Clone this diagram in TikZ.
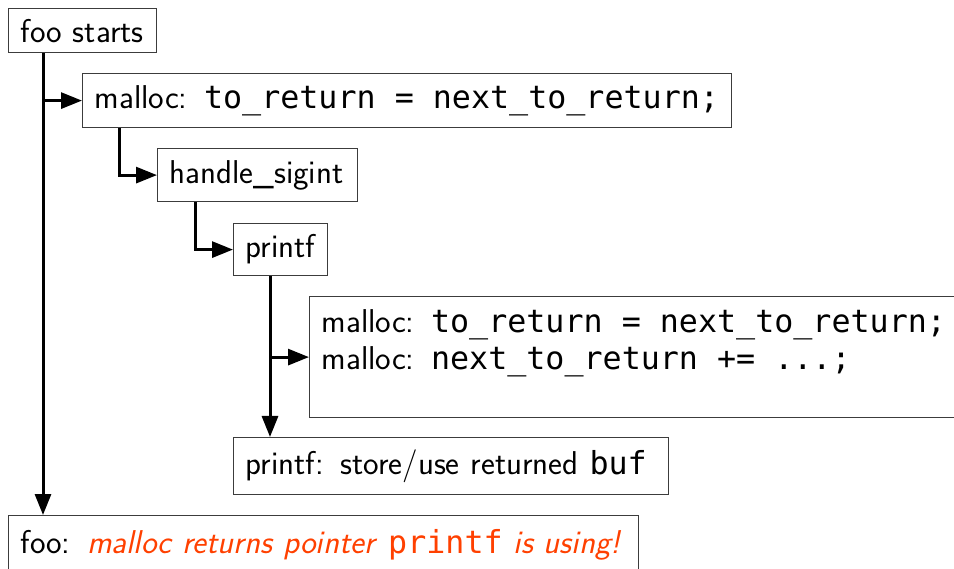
\documentclass[tikz,border=0pt]{standalone}
\usepackage{fontspec}
\setmonofont[Scale=0.96]{DejaVu Sans Mono}
\usetikzlibrary{arrows.meta,calc}
\definecolor{alert}{RGB}{255,64,0}
\definecolor{boxline}{RGB}{60,60,60}
\newcommand\tsp{\phantom{x}}
\tikzset{
  box/.style={draw=boxline, line width=1.2pt, anchor=north west, inner xsep=12pt, inner ysep=0pt,
    align=left, font=\fontsize{33}{37}\selectfont\sffamily},
  conn/.style={line width=3pt, -{Triangle[length=21pt,width=16pt]}}
}
\begin{document}
\begin{tikzpicture}[x=1pt,y=-1pt]
\useasboundingbox (0,0) rectangle (954,569);
\clip (0,0) rectangle (954,569);
\node[box, minimum width=148pt, minimum height=44pt, text width=124pt] (fs) at (8,8) {foo starts};
\node[box, minimum width=649pt, minimum height=54pt, text width=625pt] (m1) at (82,73) {malloc: \texttt{to\_return\tsp=\tsp next\_to\_return;}};
\node[box, minimum width=200pt, minimum height=53pt, text width=176pt] (hs) at (157,148) {handle\_sigint};
\node[box, minimum width=94pt, minimum height=52pt, text width=70pt] (pf) at (233,223) {printf};
\node[box, minimum width=680pt, minimum height=121pt, text width=656pt] (big) at (309,296)
  {malloc: \texttt{to\_return\tsp=\tsp next\_to\_return;}\\malloc: \texttt{next\_to\_return\tsp+=\tsp...;}\\[-14pt]\strut};
\node[box, minimum width=435pt, minimum height=57pt, text width=411pt] (st) at (233,437) {printf: store/use returned \texttt{buf}};
\node[box, minimum width=630pt, minimum height=58pt, text width=606pt] (foo) at (8,515)
  {foo: \textcolor{alert}{\textit{malloc returns pointer} \texttt{printf} \textit{is using!}}};
% connectors
\coordinate (v0) at ([xshift=35pt]fs.south west);
\draw[conn] (v0) -- (v0 |- foo.north);
\draw[conn] (v0 |- m1.west) -- (m1.west);
\coordinate (v1) at ([xshift=37pt]m1.south west);
\draw[conn] (v1) |- (hs.west);
\coordinate (v2) at ([xshift=38pt]hs.south west);
\draw[conn] (v2) |- (pf.west);
\coordinate (v3) at ([xshift=37pt]pf.south west);
\draw[conn] (v3) -- (v3 |- st.north);
\draw[conn] (v3 |- big.west) -- (big.west);
\end{tikzpicture}
\end{document}
